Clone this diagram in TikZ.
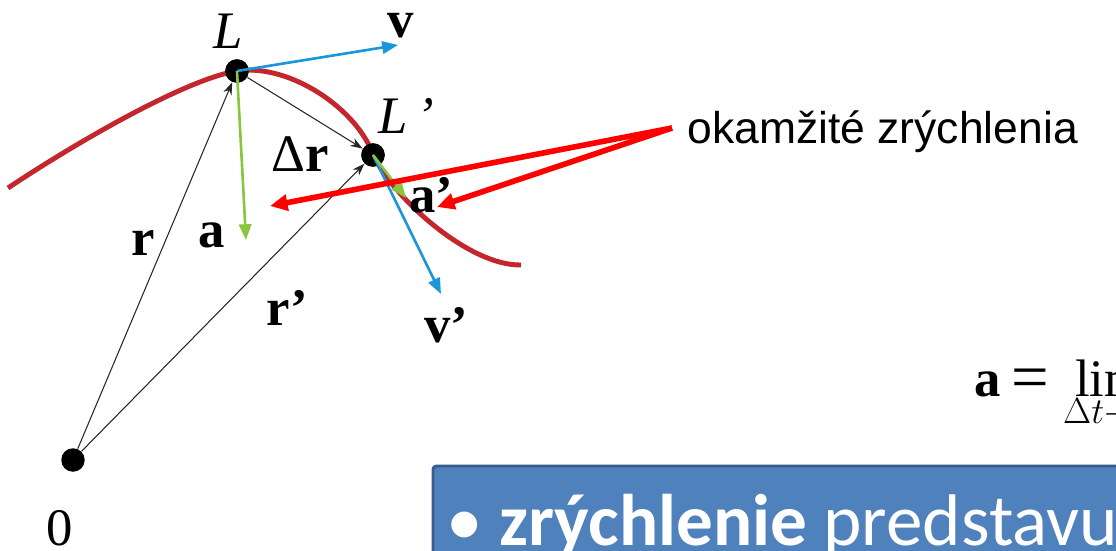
\documentclass[tikz,border=0pt]{standalone}
\usepackage{fontspec}
\setmainfont{Liberation Serif}
\newfontfamily\arialfont{Liberation Sans}
\newfontfamily\calibrifont{Carlito}
\usetikzlibrary{arrows.meta}
\definecolor{curvered}{RGB}{196,38,46}
\definecolor{velblue}{RGB}{27,150,220}
\definecolor{accgreen}{RGB}{138,197,64}
\definecolor{boxblue}{RGB}{79,129,189}
\definecolor{boxedge}{RGB}{56,93,138}

\begin{document}
\begin{tikzpicture}[x=0.02cm,y=-0.02cm,line width=.6pt,
  dot/.style={circle,fill=black,inner sep=0pt,minimum size=0.47cm},
  lbl/.style={inner sep=0pt,font=\fontsize{30}{34}\selectfont},
  radvec/.style={draw=black!85,line width=.6pt,-{Stealth[length=7pt,width=5pt]}},
  vel/.style={draw=velblue,line width=1.5pt,-{Triangle[length=9pt,width=7pt]}},
  acc/.style={draw=accgreen,line width=1.5pt,-{Triangle[length=9pt,width=7pt]}},
  hint/.style={draw=red,line width=3.2pt,-{Triangle[length=10pt,width=9pt]}}]
\useasboundingbox (0,0) rectangle (1116,551);
\clip (0,0) rectangle (1116,551);
% points on the path
\node[dot] (L) at (237,71) {};
\node[dot] (L2) at (373,155) {};
\node[dot] (O) at (73,460) {};
\coordinate (vtip) at (398,45);
\coordinate (atip) at (246,240);
\coordinate (v2tip) at (441,294);
\coordinate (a2tip) at (406,198);
% trajectory
\draw[curvered,line width=2.8pt] (8,188) .. controls (80,140) and (187,79) .. (L.center)
  .. controls (290,63) and (358,110) .. (L2.center)
  .. controls (395,200) and (470,266) .. (521,265);
\node[dot] at (L) {};
\node[dot] at (L2) {};
% vectors
\draw[radvec] (O) -- (L);
\draw[radvec] (O) -- (L2);
\draw[radvec] (L) -- (L2);
\draw[vel] (L.center) -- (vtip);
\draw[acc] (L.center) -- (atip);
\draw[vel] (L2.center) -- (v2tip);
\draw[acc] (L2.center) -- (a2tip);
\node[lbl] (Llab) at (228,31) {\textit{L}};
\node[lbl] (vlab) at (401,26) {\textbf{v}};
\node[lbl] (L2lab) at (406,116) {\textit{L\,'}};
\node[lbl] (drlab) at (300,154) {Δ\textbf{r}};
\node[lbl] (alab) at (212,235) {\textbf{a}};
\node[lbl] (rlab) at (143,243) {\textbf{r}};
\node[lbl] (r2lab) at (287,308) {\textbf{r'}};
\node[lbl] (a2lab) at (431,195) {\textbf{a'}};
\node[lbl] (v2lab) at (446,325) {\textbf{v'}};
\node[lbl] (Olab) at (60,528) {0};
% callout
\coordinate (fork) at (672,128);
\coordinate (hinta) at (270,206);
\coordinate (hinta2) at (437,207);
\node[anchor=base west,inner sep=0pt,font=\arialfont\fontsize{25.3}{30}\selectfont] (note) at (687,143) {okamžité zrýchlenia};
\draw[hint] (fork) -- (hinta);
\draw[hint] (fork) -- (hinta2);
% formula
\node[anchor=base west,inner sep=0pt,font=\fontsize{30}{34}\selectfont] (lim) at (974,396)
  {\textbf{a}\hspace{6pt}\raisebox{-2pt}{\fontsize{38}{40}\selectfont =}\hspace{8pt}$\displaystyle\mathop{\hbox{lim}}\limits_{\Delta t\to 0}\frac{\Delta\mathbf{v}}{\Delta t}$};
% text box
\draw[boxedge,fill=boxblue,line width=1.7pt,rounded corners=2pt] (433,466) rectangle (1140,580);
\node[anchor=base west,inner sep=0pt,text=white,font=\calibrifont\fontsize{41.6}{48}\selectfont] (point) at (446,545)
  {• \textbf{zrýchlenie} predstavu};
\end{tikzpicture}
\end{document}
